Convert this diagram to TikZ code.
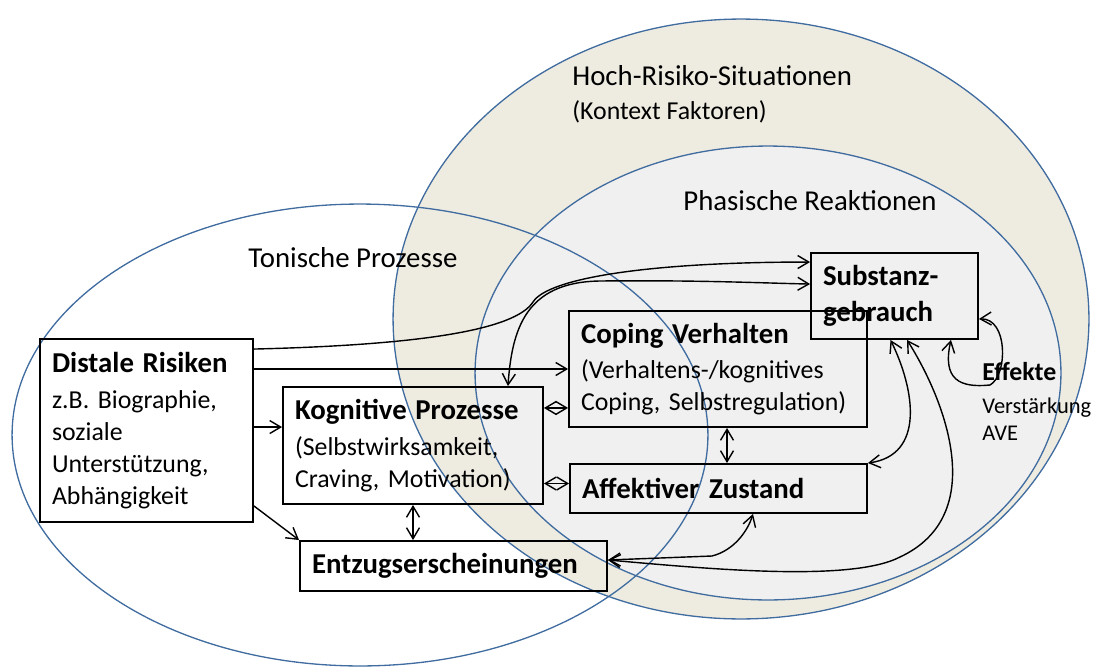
\documentclass[tikz,border=0pt]{standalone}
\usepackage{fontspec}
\setmainfont{Carlito}
\usetikzlibrary{arrows.meta,calc}

\definecolor{randblau}{RGB}{64,108,160}
\definecolor{beige}{RGB}{238,236,225}
\definecolor{hellgrau}{RGB}{240,240,240}

\newcommand{\titelschrift}{\fontsize{16.4}{20.4}\selectfont}
\newcommand{\textschrift}{\fontsize{14.7}{18.1}\selectfont}
\newcommand{\kleinschrift}{\fontsize{12.8}{15.4}\selectfont}

\tikzset{
  kasten/.style={draw, line width=1.1pt, inner xsep=0.24cm, inner ysep=0pt, align=left, font=\textschrift},
  pfeil/.style={line width=0.8pt, -{Straight Barb[length=2.2mm,width=2.6mm]}},
  dpfeil/.style={line width=0.8pt, {Straight Barb[length=2.2mm,width=2.6mm]}-{Straight Barb[length=2.2mm,width=2.6mm]}},
  etikett/.style={inner sep=0pt, anchor=base west, font=\titelschrift},
  kreis/.style={draw=randblau, line width=0.75pt}
}

\begin{document}
\begin{tikzpicture}[x=0.02cm, y=-0.02cm]
  \useasboundingbox (0,0) rectangle (1094,666);

  % die drei Ellipsen
  \draw[kreis, fill=beige] (741,319) ellipse [x radius=6.96cm, y radius=6cm];
  \draw[kreis, fill=hellgrau] (768,373) ellipse [x radius=5.86cm, y radius=4.54cm];
  \draw[kreis] (360,435) ellipse [x radius=6.96cm, y radius=4.62cm];

  \node[etikett] (hoch) at (572,85) {Hoch-Risiko-Situationen};
  \node[etikett, font=\textschrift] (kontext) at (572,119) {(Kontext Faktoren)};
  \node[etikett] (phas) at (683,210) {Phasische Reaktionen};
  \node[etikett] (ton) at (248,267) {Tonische Prozesse};

  % Kaesten
  \node[kasten, text width=3.78cm, minimum height=3.66cm] (dist) at (146.5,430.5)
    {{\titelschrift\bfseries Distale Risiken}\\[2.3pt] z.B. Biographie,\\ soziale\\ Unterstützung,\\ Abhängigkeit};
  \node[kasten, text width=4.72cm, minimum height=2.34cm] (kog) at (413,445.5)
    {{\titelschrift\bfseries Kognitive Prozesse}\\[2.3pt] (Selbstwirksamkeit,\\ Craving, Motivation)};
  \node[kasten, text width=5.66cm, minimum height=1cm, font=\titelschrift\bfseries] (entz) at (453.5,566)
    {Entzugserscheinungen};
  \node[kasten, text width=5.48cm, minimum height=2.32cm] (cop) at (718,369)
    {{\titelschrift\bfseries Coping Verhalten}\\[2.3pt] (Verhaltens-/kognitives\\ Coping, Selbstregulation)};
  \node[kasten, text width=5.46cm, minimum height=0.98cm, font=\titelschrift\bfseries] (aff) at (718.5,488.5)
    {Affektiver Zustand};
  \node[kasten, text width=2.86cm, minimum height=1.72cm, font=\titelschrift\bfseries] (subst) at (894.5,296)
    {Substanz-\\gebrauch};

  \node[etikett, font=\textschrift\bfseries] (eff) at (982,380) {Effekte};
  \node[etikett, font=\kleinschrift] (verst) at (982,413) {Verstärkung};
  \node[etikett, font=\kleinschrift] (ave) at (982,440) {AVE};

  % Pfeile
  \draw[pfeil] ($(dist.north east)+(0,11)$) .. controls (420,345) and (515,330) .. (533,302)
    .. controls (548,278) and (650,262) .. ($(subst.north west)+(0,10)$);
  \draw[dpfeil] ($(kog.north east)+(-36,0)$) .. controls (512,330) and (525,282) .. (600,281)
    .. controls (700,280) and (760,283) .. ($(subst.north west)+(0,32)$);
  \draw[pfeil] (dist.east |- cop.west) -- (cop.west);

  \coordinate (kl) at ($(kog.north west)+(0,41)$);
  \draw[pfeil] (dist.east |- kl) -- (kl);
  \draw[pfeil] ($(dist.south east)+(0,-17)$) -- (entz.north west);

  \coordinate (ck) at ($(cop.south west)+(0,-20)$);
  \draw[dpfeil] (kog.east |- ck) -- (ck);
  \coordinate (ak) at ($(aff.west)+(0,-5)$);
  \draw[dpfeil] (kog.east |- ak) -- (ak);
  \draw[dpfeil] (kog.south) -- (kog.south |- entz.north);
  \coordinate (ca) at ($(cop.south)+(9,0)$);
  \draw[dpfeil] (ca) -- (ca |- aff.north);

  \draw[dpfeil] ($(subst.south)+(-4,0)$) .. controls (915,390) and (925,455) .. (aff.north east);
  \draw[dpfeil] ($(subst.south)+(12.5,0)$) .. controls (945,400) and (990,515) .. (900,557)
    .. controls (850,583) and (700,568) .. ($(entz.east)+(0,-6)$);
  \draw[dpfeil] ($(entz.east)+(0,-6)$) -- (712,556) .. controls (735,550) and (748,530) .. ($(aff.south)+(34.5,0)$);
  \draw[dpfeil] ($(subst.south east)+(-28,0)$) .. controls (942,380) and (960,388) .. (990,385)
    .. controls (1008,375) and (1008,318) .. ($(subst.south east)+(0,-21)$);
\end{tikzpicture}
\end{document}
